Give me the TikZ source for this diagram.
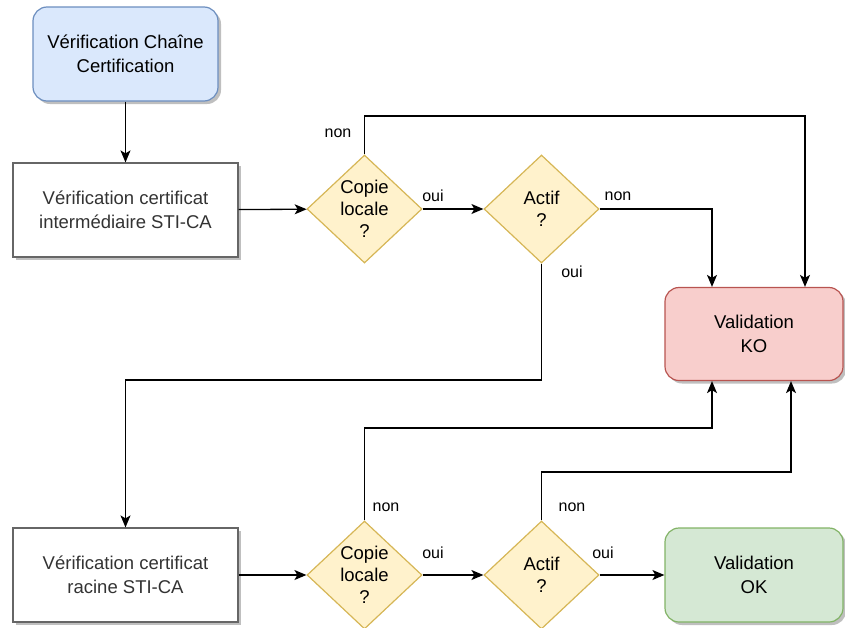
\documentclass[tikz,border=0pt]{standalone}
\usepackage{fontspec}
\setmainfont{Liberation Sans}
\usetikzlibrary{shapes.geometric,arrows.meta,shadows}
\definecolor{bluefill}{HTML}{DAE8FC}\definecolor{blueline}{HTML}{6C8EBF}
\definecolor{yelfill}{HTML}{FFF2CC}\definecolor{yelline}{HTML}{D6B656}
\definecolor{redfill}{HTML}{F8CECC}\definecolor{redline}{HTML}{B85450}
\definecolor{grnfill}{HTML}{D5E8D4}\definecolor{grnline}{HTML}{82B366}
\definecolor{boxline}{HTML}{666666}\definecolor{txtgray}{HTML}{333333}
\tikzset{
  shad/.style={drop shadow={shadow xshift=3pt,shadow yshift=-3pt,fill=black,opacity=0.25}},
  basebox/.style={rectangle,inner sep=0pt,align=center,line width=1.2pt,
    font=\fontsize{18.5}{24}\selectfont},
  startbox/.style={basebox,rounded corners=14pt,fill=bluefill,draw=blueline,shad,
    minimum width=185pt,minimum height=94pt},
  procbox/.style={basebox,fill=white,draw=boxline,text=txtgray,shad,
    minimum width=225pt,minimum height=94pt},
  kobox/.style={basebox,rounded corners=14pt,fill=redfill,draw=redline,shad,
    minimum width=178pt,minimum height=93pt},
  okbox/.style={basebox,rounded corners=14pt,fill=grnfill,draw=grnline,shad,
    minimum width=178pt,minimum height=94pt},
  decision/.style={diamond,inner sep=0pt,align=center,fill=yelfill,draw=yelline,
    line width=1.2pt,minimum width=115pt,minimum height=108pt,
    font=\fontsize{18.5}{22}\selectfont},
  lbl/.style={inner sep=0pt,font=\fontsize{16}{18}\selectfont},
  arr/.style={line width=1.3pt,-{Stealth[length=12pt,width=10pt,inset=3pt]}},
}
\begin{document}
\begin{tikzpicture}[x=1pt,y=-1pt]
\useasboundingbox (0,0) rectangle (845,627);
\node[startbox] (s) at (125.5,54) {Vérification Chaîne\\Certification};
\node[procbox] (b1) at (125.5,210) {Vérification certificat\\intermédiaire STI-CA};
\node[decision] (d1) at (364.5,209) {Copie\\locale\\?};
\node[decision] (d2) at (541.5,209) {Actif\\?};
\node[kobox] (ko) at (754,334) {Validation\\KO};
\node[procbox] (b3) at (125.5,575) {Vérification certificat\\racine STI-CA};
\node[decision] (d3) at (364.5,575) {Copie\\locale\\?};
\node[decision] (d4) at (541.5,575) {Actif\\?};
\node[okbox] (ok) at (754,575) {Validation\\OK};

\coordinate (kt1) at ([xshift=-42pt]ko.north);
\coordinate (kt2) at ([xshift=51pt]ko.north);
\coordinate (kb1) at ([xshift=-42pt]ko.south);
\coordinate (kb2) at ([xshift=37pt]ko.south);
\coordinate (y116) at (0,116);
\coordinate (y380) at (0,380);
\coordinate (y428) at (0,428);
\coordinate (y472) at (0,472);

\draw[arr] (s) -- (b1);
\draw[arr] (b1) -- (d1);
\draw[arr] (d1) -- (d2);
\draw[arr] (d1.north) -- (d1.north |- y116) -| (kt2);
\draw[arr] (d2.east) -| (kt1);
\draw[arr] (d2.south) -- (d2.south |- y380) -| (b3.north);
\draw[arr] (b3) -- (d3);
\draw[arr] (d3) -- (d4);
\draw[arr] (d4) -- (ok);
\draw[arr] (d3.north) -- (d3.north |- y428) -| (kb1);
\draw[arr] (d4.north) -- (d4.north |- y472) -| (kb2);

\node[lbl] (l1) at (338,133) {non};
\node[lbl] (l2) at (433,196) {oui};
\node[lbl] (l3) at (618,196) {non};
\node[lbl] (l4) at (572,272) {oui};
\node[lbl] (l5) at (386,507) {non};
\node[lbl] (l6) at (433,553) {oui};
\node[lbl] (l7) at (572,507) {non};
\node[lbl] (l8) at (603,553) {oui};
\end{tikzpicture}
\end{document}
